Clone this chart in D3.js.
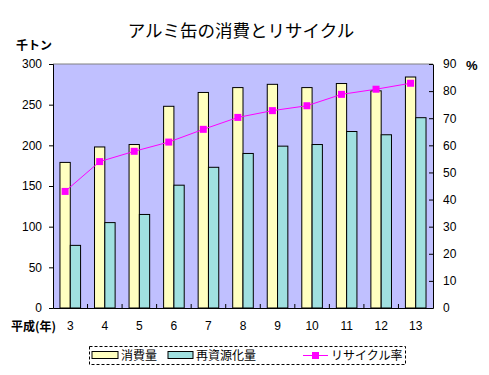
<!DOCTYPE html>
<html>
<head>
<meta charset="utf-8">
<script src="https://cdn.jsdelivr.net/npm/d3@7"></script>
<style>
  body { margin: 0; background: #fff; }
  text { font-family: "Liberation Sans", "Noto Sans CJK JP", sans-serif; }
  .jp { font-family: "Noto Sans CJK JP", sans-serif; }
</style>
</head>
<body>
<svg width="489" height="375"></svg>
<script>
var years = ["3", "4", "5", "6", "7", "8", "9", "10", "11", "12", "13"];
var consumption = [179, 198, 201, 248, 265, 271, 275, 271, 276, 267, 284];
var recycled = [77, 105, 115, 151, 173, 190, 199, 201, 217, 213, 234];
var rate = [43, 54, 57.8, 61.2, 65.9, 70.3, 72.8, 74.6, 78.8, 80.7, 82.9];
var leftTicks = [0, 50, 100, 150, 200, 250, 300];
var rightTicks = [0, 10, 20, 30, 40, 50, 60, 70, 80, 90];

var svg = d3.select("svg");
var plotL = 53, plotR = 433, plotT = 64, plotB = 308;

var x = d3.scaleBand().domain(years).range([plotL, plotR]).paddingInner(0).paddingOuter(0);
var y = d3.scaleLinear().domain([0, 300]).range([plotB, plotT]);
var y2 = d3.scaleLinear().domain([0, 90]).range([plotB, plotT]);
var bw = 10.3;

// plot area
svg.append("rect").attr("x", plotL).attr("y", plotT)
    .attr("width", plotR - plotL).attr("height", plotB - plotT)
    .attr("fill", "#C0C0FF");
svg.append("line").attr("x1", plotL).attr("x2", plotR).attr("y1", plotT).attr("y2", plotT)
    .attr("stroke", "#808080");

// bars
var g = svg.append("g");
g.selectAll(".c").data(consumption).enter().append("rect")
    .attr("x", function(d, i) { return x(years[i]) + x.bandwidth() / 2 - bw; })
    .attr("y", function(d) { return y(d); })
    .attr("width", bw)
    .attr("height", function(d) { return plotB - y(d); })
    .attr("fill", "#FFFFC0").attr("stroke", "#000").attr("stroke-width", 1);
g.selectAll(".r").data(recycled).enter().append("rect")
    .attr("x", function(d, i) { return x(years[i]) + x.bandwidth() / 2; })
    .attr("y", function(d) { return y(d); })
    .attr("width", bw)
    .attr("height", function(d) { return plotB - y(d); })
    .attr("fill", "#A0E0E0").attr("stroke", "#000").attr("stroke-width", 1);

// line
var line = d3.line()
    .x(function(d, i) { return x(years[i]) + x.bandwidth() / 2 - bw / 2; })
    .y(function(d) { return y2(d); });
svg.append("path").datum(rate).attr("d", line)
    .attr("fill", "none").attr("stroke", "#FF00FF").attr("stroke-width", 1);
svg.selectAll(".m").data(rate).enter().append("rect")
    .attr("x", function(d, i) { return x(years[i]) + x.bandwidth() / 2 - bw / 2 - 3.5; })
    .attr("y", function(d) { return y2(d) - 3.5; })
    .attr("width", 7).attr("height", 7)
    .attr("fill", "#FF00FF");

// axes
var la = svg.append("g").attr("transform", "translate(" + plotL + ",0)")
    .call(d3.axisLeft(y).tickValues(leftTicks).tickSize(4).tickPadding(7));
var ra = svg.append("g").attr("transform", "translate(" + plotR + ",0)")
    .call(d3.axisRight(y2).tickValues(rightTicks).tickSizeInner(-4).tickSizeOuter(0).tickPadding(10));
var xa = svg.append("g").attr("transform", "translate(0," + plotB + ")")
    .call(d3.axisBottom(x).tickSize(0).tickPadding(13));
[la, ra, xa].forEach(function(a) {
    a.select(".domain").attr("stroke", "#000");
    a.selectAll("line").attr("stroke", "#000");
    a.selectAll("text").attr("font-size", "12px").attr("fill", "#000")
        .attr("font-family", "Liberation Sans, sans-serif");
});
// category separators on the bottom
svg.append("g").selectAll("line").data(years.slice(1)).enter().append("line")
    .attr("x1", function(d) { return x(d); }).attr("x2", function(d) { return x(d); })
    .attr("y1", plotB).attr("y2", plotB - 4).attr("stroke", "#000");

// titles
svg.append("text").attr("class", "jp").attr("x", 241).attr("y", 37)
    .attr("text-anchor", "middle").attr("font-size", "17.5px").text("アルミ缶の消費とリサイクル");
svg.append("text").attr("class", "jp").attr("x", 16).attr("y", 50)
    .attr("font-size", "12px").attr("font-weight", "bold").text("千トン");
svg.append("text").attr("x", 466).attr("y", 70)
    .attr("font-size", "13px").attr("font-weight", "bold").text("%");
svg.append("text").attr("class", "jp").attr("x", 11).attr("y", 331)
    .attr("font-size", "12px").attr("font-weight", "bold").text("平成(年)");

// legend
var lg = svg.append("g");
lg.append("rect").attr("x", 89.5).attr("y", 346.5).attr("width", 316).attr("height", 18)
    .attr("fill", "none").attr("stroke", "#000").attr("stroke-dasharray", "3,2");
lg.append("rect").attr("x", 92).attr("y", 351.5).attr("width", 26).attr("height", 7)
    .attr("fill", "#FFFFC0").attr("stroke", "#000");
lg.append("text").attr("class", "jp").attr("x", 121).attr("y", 360).attr("font-size", "12px").text("消費量");
lg.append("rect").attr("x", 168).attr("y", 351.5).attr("width", 25).attr("height", 7)
    .attr("fill", "#A0E0E0").attr("stroke", "#000");
lg.append("text").attr("class", "jp").attr("x", 196).attr("y", 360).attr("font-size", "12px").text("再資源化量");
lg.append("line").attr("x1", 303).attr("x2", 328).attr("y1", 355.5).attr("y2", 355.5)
    .attr("stroke", "#FF00FF");
lg.append("rect").attr("x", 312).attr("y", 352).attr("width", 7).attr("height", 7).attr("fill", "#FF00FF");
lg.append("text").attr("class", "jp").attr("x", 331).attr("y", 360).attr("font-size", "12px").text("リサイクル率");
</script>
</body>
</html>
